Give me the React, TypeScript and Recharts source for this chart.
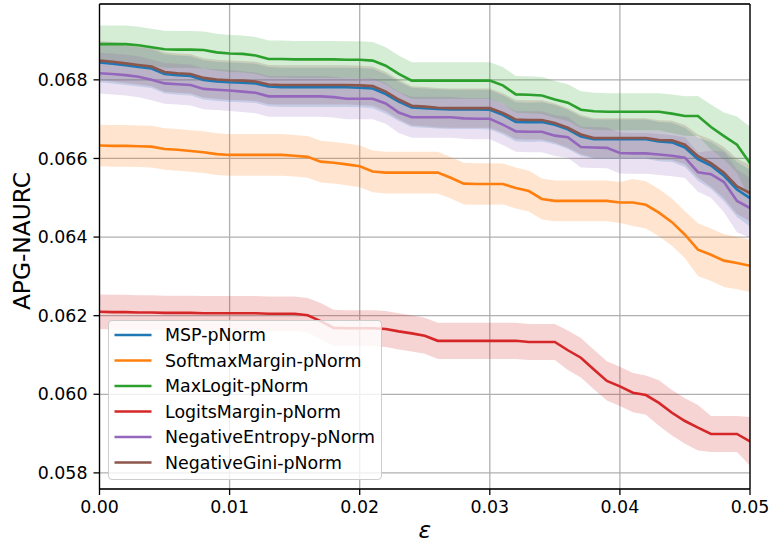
import React from 'react';
import { ComposedChart, Line, Area, XAxis, YAxis, CartesianGrid, ReferenceLine } from 'recharts';

const epsValues = [
  0.000, 0.001, 0.002, 0.003, 0.004, 0.005, 0.006, 0.007, 0.008, 0.009,
  0.010, 0.011, 0.012, 0.013, 0.014, 0.015, 0.016, 0.017, 0.018, 0.019,
  0.020, 0.021, 0.022, 0.023, 0.024, 0.025, 0.026, 0.027, 0.028, 0.029,
  0.030, 0.031, 0.032, 0.033, 0.034, 0.035, 0.036, 0.037, 0.038, 0.039,
  0.040, 0.041, 0.042, 0.043, 0.044, 0.045, 0.046, 0.047, 0.048, 0.049, 0.050,
];

const xTicks = [0, 0.01, 0.02, 0.03, 0.04, 0.05];
const yTicks = [0.058, 0.06, 0.062, 0.064, 0.066, 0.068];

const mspMean = [
  0.06844, 0.06841, 0.06837, 0.06833, 0.06829, 0.06815, 0.06812, 0.06810, 0.06800, 0.06796,
  0.06794, 0.06793, 0.06791, 0.06783, 0.06781, 0.06781, 0.06781, 0.06781, 0.06781, 0.06781,
  0.06780, 0.06778, 0.06764, 0.06745, 0.06730, 0.06728, 0.06726, 0.06725, 0.06725, 0.06725,
  0.06724, 0.06711, 0.06693, 0.06692, 0.06693, 0.06686, 0.06674, 0.06656, 0.06649, 0.06649,
  0.06649, 0.06649, 0.06649, 0.06643, 0.06641, 0.06628, 0.06598, 0.06582, 0.06556, 0.06521, 0.06499,
];
const mspStd = [
  0.0005, 0.0005, 0.0005, 0.0005, 0.0005, 0.0005, 0.0005, 0.0005, 0.0005, 0.0005,
  0.0005, 0.0005, 0.0005, 0.0005, 0.0005, 0.0005, 0.0005, 0.0005, 0.0005, 0.0005,
  0.0005, 0.0005, 0.0005, 0.0005, 0.0005, 0.0005, 0.0005, 0.0005, 0.0005, 0.0005,
  0.0005, 0.0005, 0.0005, 0.0005, 0.0005, 0.0005, 0.0005, 0.0005, 0.0005, 0.0005,
  0.0005, 0.0005, 0.0005, 0.0005, 0.0005, 0.0005, 0.00055, 0.0006, 0.00065, 0.0007, 0.00072,
];

const softmaxMean = [
  0.06633, 0.06632, 0.06632, 0.06631, 0.06630, 0.06624, 0.06622, 0.06619, 0.06616, 0.06611,
  0.06609, 0.06609, 0.06609, 0.06609, 0.06609, 0.06607, 0.06604, 0.06592, 0.06589, 0.06585,
  0.06580, 0.06567, 0.06564, 0.06564, 0.06564, 0.06564, 0.06564, 0.06551, 0.06536, 0.06535,
  0.06535, 0.06535, 0.06525, 0.06517, 0.06497, 0.06492, 0.06492, 0.06492, 0.06492, 0.06492,
  0.06488, 0.06488, 0.06482, 0.06462, 0.06438, 0.06406, 0.06368, 0.06355, 0.06340, 0.06334, 0.06327,
];
const softmaxStd = [
  0.00053, 0.00053, 0.00053, 0.00053, 0.00053, 0.00053, 0.00053, 0.00053, 0.00053, 0.00053,
  0.00053, 0.00053, 0.00053, 0.00053, 0.00053, 0.00053, 0.00053, 0.00053, 0.00053, 0.00053,
  0.00053, 0.00053, 0.00053, 0.00053, 0.00053, 0.00053, 0.00053, 0.00053, 0.00053, 0.00053,
  0.00053, 0.00052, 0.00052, 0.00052, 0.00052, 0.00052, 0.00052, 0.00052, 0.00052, 0.00052,
  0.00052, 0.0006, 0.0006, 0.0006, 0.0006, 0.0006, 0.00067, 0.00067, 0.00067, 0.00067, 0.00067,
];

const maxLogitMean = [
  0.06891, 0.06891, 0.06891, 0.06888, 0.06883, 0.06878, 0.06877, 0.06877, 0.06876, 0.06870,
  0.06867, 0.06866, 0.06862, 0.06853, 0.06853, 0.06852, 0.06852, 0.06852, 0.06852, 0.06851,
  0.06851, 0.06849, 0.06836, 0.06815, 0.06798, 0.06798, 0.06798, 0.06798, 0.06798, 0.06798,
  0.06798, 0.06786, 0.06763, 0.06762, 0.06760, 0.06750, 0.06742, 0.06724, 0.06720, 0.06719,
  0.06719, 0.06719, 0.06719, 0.06719, 0.06714, 0.06708, 0.06708, 0.06680, 0.06657, 0.06635, 0.06588,
];
const maxLogitStd = [
  0.00047, 0.00047, 0.00047, 0.00047, 0.00047, 0.00047, 0.00047, 0.00047, 0.00047, 0.00047,
  0.00047, 0.00047, 0.00047, 0.00047, 0.00047, 0.00047, 0.00047, 0.00047, 0.00047, 0.00047,
  0.00047, 0.00047, 0.00047, 0.00047, 0.00047, 0.00047, 0.00047, 0.00047, 0.00047, 0.00047,
  0.00047, 0.00047, 0.00047, 0.00047, 0.00047, 0.00047, 0.00047, 0.00047, 0.00047, 0.00047,
  0.00047, 0.00047, 0.00047, 0.00047, 0.00049, 0.0005, 0.00051, 0.00057, 0.0006, 0.00072, 0.00093,
];

const logitsMarginMean = [
  0.06210, 0.06209, 0.06209, 0.06208, 0.06208, 0.06207, 0.06207, 0.06207, 0.06206, 0.06206,
  0.06206, 0.06206, 0.06206, 0.06205, 0.06205, 0.06205, 0.06201, 0.06186, 0.06169, 0.06168,
  0.06168, 0.06168, 0.06166, 0.06160, 0.06155, 0.06149, 0.06136, 0.06136, 0.06136, 0.06136,
  0.06136, 0.06136, 0.06136, 0.06133, 0.06133, 0.06133, 0.06112, 0.06093, 0.06063, 0.06034,
  0.06020, 0.06004, 0.05998, 0.05978, 0.05953, 0.05932, 0.05915, 0.05899, 0.05899, 0.05899, 0.05880,
];
const logitsMarginStd = [
  0.00044, 0.00044, 0.00044, 0.00044, 0.00044, 0.00044, 0.00044, 0.00044, 0.00044, 0.00044,
  0.00044, 0.00044, 0.00044, 0.00044, 0.00044, 0.00044, 0.00044, 0.00046, 0.00046, 0.00046,
  0.00046, 0.00046, 0.00046, 0.00046, 0.00046, 0.00046, 0.00046, 0.00046, 0.00046, 0.00046,
  0.00046, 0.00046, 0.00046, 0.00046, 0.00046, 0.00046, 0.0005, 0.0005, 0.0005, 0.0005,
  0.0005, 0.0005, 0.0005, 0.00058, 0.00058, 0.00058, 0.00058, 0.00046, 0.00046, 0.00046, 0.00062,
];

const entropyMean = [
  0.06817, 0.06815, 0.06812, 0.06808, 0.06800, 0.06791, 0.06789, 0.06787, 0.06777, 0.06775,
  0.06773, 0.06770, 0.06767, 0.06758, 0.06758, 0.06758, 0.06758, 0.06758, 0.06756, 0.06752,
  0.06752, 0.06752, 0.06740, 0.06717, 0.06705, 0.06705, 0.06705, 0.06705, 0.06702, 0.06701,
  0.06701, 0.06686, 0.06669, 0.06668, 0.06668, 0.06658, 0.06654, 0.06629, 0.06628, 0.06627,
  0.06614, 0.06613, 0.06613, 0.06610, 0.06607, 0.06602, 0.06565, 0.06560, 0.06540, 0.06492, 0.06474,
];
const entropyStd = [
  0.00052, 0.00052, 0.00052, 0.00052, 0.00052, 0.00052, 0.00052, 0.00052, 0.00052, 0.00052,
  0.00052, 0.00052, 0.00052, 0.00052, 0.00052, 0.00052, 0.00052, 0.00052, 0.00052, 0.00052,
  0.00052, 0.00052, 0.00052, 0.00052, 0.00052, 0.00052, 0.00052, 0.00052, 0.00052, 0.00052,
  0.00052, 0.00052, 0.00052, 0.00052, 0.00052, 0.00052, 0.00052, 0.00052, 0.00052, 0.00052,
  0.00052, 0.00052, 0.00052, 0.00052, 0.00052, 0.00052, 0.0005, 0.0006, 0.00077, 0.0008, 0.00076,
];

const giniMean = [
  0.06849, 0.06846, 0.06842, 0.06838, 0.06834, 0.06820, 0.06817, 0.06815, 0.06805, 0.06801,
  0.06799, 0.06798, 0.06796, 0.06788, 0.06787, 0.06787, 0.06787, 0.06787, 0.06787, 0.06787,
  0.06786, 0.06784, 0.06770, 0.06750, 0.06734, 0.06732, 0.06729, 0.06728, 0.06728, 0.06728,
  0.06728, 0.06716, 0.06699, 0.06698, 0.06698, 0.06690, 0.06678, 0.06661, 0.06652, 0.06652,
  0.06652, 0.06652, 0.06652, 0.06647, 0.06646, 0.06635, 0.06606, 0.06588, 0.06564, 0.06529, 0.06512,
];
const giniStd = [
  0.0005, 0.0005, 0.0005, 0.0005, 0.0005, 0.0005, 0.0005, 0.0005, 0.0005, 0.0005,
  0.0005, 0.0005, 0.0005, 0.0005, 0.0005, 0.0005, 0.0005, 0.0005, 0.0005, 0.0005,
  0.0005, 0.0005, 0.0005, 0.0005, 0.0005, 0.0005, 0.0005, 0.0005, 0.0005, 0.0005,
  0.0005, 0.0005, 0.0005, 0.0005, 0.0005, 0.0005, 0.0005, 0.0005, 0.0005, 0.0005,
  0.0005, 0.0005, 0.0005, 0.0005, 0.0005, 0.0005, 0.00055, 0.0006, 0.00065, 0.0007, 0.00072,
];

const seriesNames = [
  'MSP-pNorm',
  'SoftmaxMargin-pNorm',
  'MaxLogit-pNorm',
  'LogitsMargin-pNorm',
  'NegativeEntropy-pNorm',
  'NegativeGini-pNorm',
];
const seriesColors = ['#1f77b4', '#ff7f0e', '#2ca02c', '#d62728', '#9467bd', '#8c564b'];
const seriesMeans = [mspMean, softmaxMean, maxLogitMean, logitsMarginMean, entropyMean, giniMean];
const seriesStds = [mspStd, softmaxStd, maxLogitStd, logitsMarginStd, entropyStd, giniStd];

const rows = epsValues.map((e, i) => {
  const row: Record<string, any> = { eps: e };
  seriesMeans.forEach((m, s) => {
    row[`s${s}`] = m[i];
    row[`b${s}`] = [m[i] - seriesStds[s][i], m[i] + seriesStds[s][i]];
  });
  return row;
});

const FONT = 'DejaVu Sans';
const Y_MIN = 0.05759;
const Y_MAX = 0.06993;

function LegendBox() {
  const rowH = 25.5;
  return (
    <div
      style={{
        position: 'absolute',
        left: 108,
        top: 320,
        width: 274,
        height: 160,
        boxSizing: 'border-box',
        border: '1.3px solid #cccccc',
        borderRadius: 4,
        background: 'rgba(255,255,255,0.8)',
      }}
    >
      <svg width={274} height={160} style={{ position: 'absolute', left: -1.3, top: -1.3 }}>
        {seriesNames.map((name, i) => {
          const cy = 15 + i * rowH;
          return (
            <g key={name}>
              <line x1={6.5} x2={43.5} y1={cy} y2={cy} stroke={seriesColors[i]} strokeWidth={2.6} />
              <text x={57} y={cy + 6.2} fontFamily={FONT} fontSize={17.4} fill="#000">
                {name}
              </text>
            </g>
          );
        })}
      </svg>
    </div>
  );
}

export default function App() {
  return (
    <div style={{ position: 'absolute', left: 0, top: 0, width: 771, height: 542, background: '#fff' }}>
      <ComposedChart
        width={771}
        height={542}
        data={rows}
        margin={{ top: 4, right: 21, bottom: 0, left: 0 }}
      >
        <CartesianGrid stroke="#b0b0b0" strokeWidth={1.3} />
        <XAxis
          type="number"
          dataKey="eps"
          domain={[0, 0.05]}
          ticks={xTicks}
          interval={0}
          height={53}
          tickFormatter={(v: number) => v.toFixed(2)}
          tick={{ fill: '#000', fontSize: 17.4, fontFamily: FONT }}
          tickSize={6}
          tickMargin={6}
          tickLine={{ stroke: '#000', strokeWidth: 1.3 }}
          axisLine={{ stroke: '#000', strokeWidth: 1.3 }}
          allowDataOverflow
        />
        <YAxis
          type="number"
          domain={[Y_MIN, Y_MAX]}
          ticks={yTicks}
          interval={0}
          width={99.5}
          tickFormatter={(v: number) => v.toFixed(3)}
          tick={{ fill: '#000', fontSize: 17.4, fontFamily: FONT }}
          tickSize={6}
          tickMargin={6}
          tickLine={{ stroke: '#000', strokeWidth: 1.3 }}
          axisLine={{ stroke: '#000', strokeWidth: 1.3 }}
          allowDataOverflow
        />
        {seriesNames.map((name, s) => (
          <Area
            key={`band-${name}`}
            type="linear"
            dataKey={`b${s}`}
            stroke="none"
            fill={seriesColors[s]}
            fillOpacity={0.2}
            isAnimationActive={false}
            activeDot={false}
            dot={false}
          />
        ))}
        {seriesNames.map((name, s) => (
          <Line
            key={`line-${name}`}
            type="linear"
            dataKey={`s${s}`}
            name={name}
            stroke={seriesColors[s]}
            strokeWidth={2.6}
            dot={false}
            activeDot={false}
            isAnimationActive={false}
          />
        ))}
        <ReferenceLine y={Y_MAX} stroke="#000" strokeWidth={1.3} />
        <ReferenceLine x={0.05} stroke="#000" strokeWidth={1.3} />
        <text
          transform="translate(30,241) rotate(-90)"
          textAnchor="middle"
          fontFamily={FONT}
          fontSize={23.3}
          fill="#000"
        >
          APG-NAURC
        </text>
        <text
          x={424.75}
          y={537.5}
          textAnchor="middle"
          fontFamily={FONT}
          fontSize={23.3}
          fontStyle="italic"
          fill="#000"
        >
          ε
        </text>
      </ComposedChart>
      <LegendBox />
    </div>
  );
}
